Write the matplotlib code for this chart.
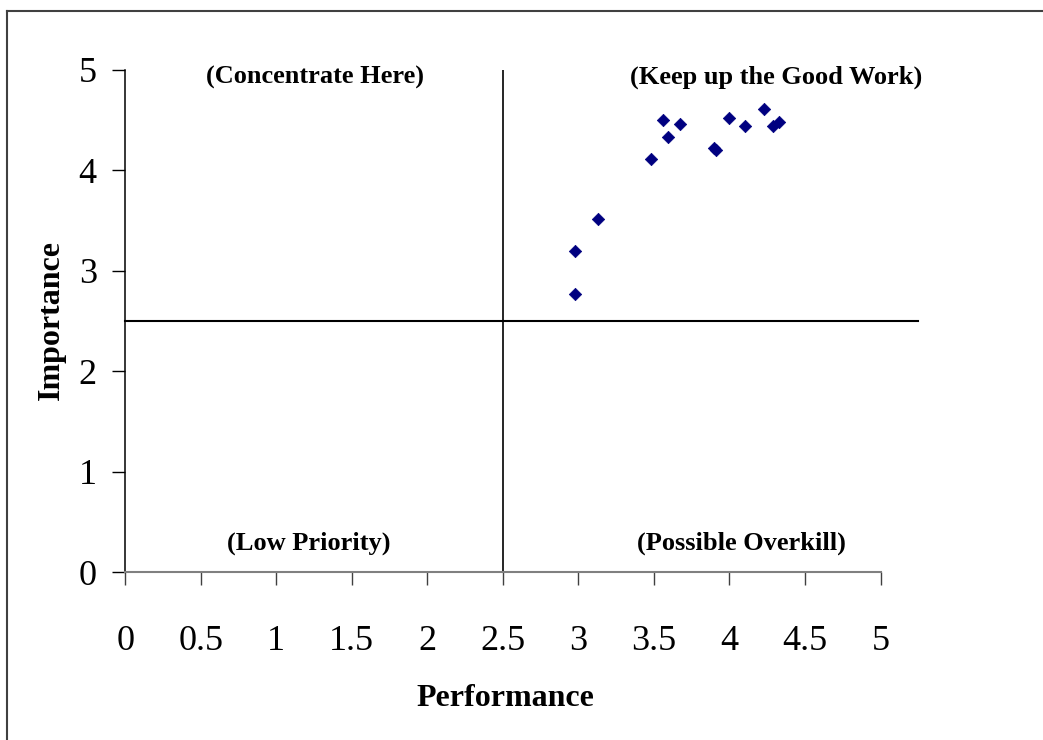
import matplotlib
import matplotlib.pyplot as plt
from matplotlib.lines import Line2D

matplotlib.use('Agg')

plt.rcParams['font.family'] = ['Liberation Serif', 'DejaVu Serif']

# === data ===
performance = [2.98, 2.98, 3.13, 3.48, 3.56, 3.59, 3.67, 3.90, 3.91, 4.00, 4.10, 4.23, 4.29, 4.33]
importance = [2.77, 3.20, 3.52, 4.11, 4.50, 4.33, 4.46, 4.22, 4.20, 4.52, 4.44, 4.61, 4.44, 4.48]

x_ticks = [0, 0.5, 1, 1.5, 2, 2.5, 3, 3.5, 4, 4.5, 5]
x_tick_labels = ['0', '0.5', '1', '1.5', '2', '2.5', '3', '3.5', '4', '4.5', '5']
y_ticks = [0, 1, 2, 3, 4, 5]
y_tick_labels = ['0', '1', '2', '3', '4', '5']

midpoint = 2.5
quadrant_names = ['(Concentrate Here)', '(Keep up the Good Work)', '(Low Priority)', '(Possible Overkill)']
quadrant_xy = [(1.255, 4.93), (4.307, 4.93), (1.216, 0.29), (4.08, 0.29)]

fig = plt.figure(figsize=(10.43, 7.40), dpi=100)
ax = fig.add_axes([0.1201, 0.2264, 0.7241, 0.6791])

ax.scatter(performance, importance, marker='D', s=40, color='#000080',
           edgecolors='#000080', linewidths=0.5, zorder=3)

# quadrant lines
ax.plot([0, 5.25], [midpoint, midpoint], color='black', lw=1.5, clip_on=False)
ax.plot([midpoint, midpoint], [0, 5], color='black', lw=1.2)

for name, (qx, qy) in zip(quadrant_names, quadrant_xy):
    ax.text(qx, qy, name, ha='center', va='center', fontsize=19, fontweight='bold')

ax.set_xlim(0, 5)
ax.set_ylim(0, 5)
ax.set_xticks(x_ticks)
ax.set_xticklabels(x_tick_labels, fontsize=26)
ax.set_yticks(y_ticks)
ax.set_yticklabels(y_tick_labels, fontsize=26)
ax.tick_params(axis='x', direction='out', length=9.5, width=1, color='#404040', pad=28)
ax.tick_params(axis='y', direction='out', length=9.5, width=1, color='black', pad=11)

for s in ['top', 'right']:
    ax.spines[s].set_visible(False)
ax.spines['bottom'].set_color('#808080')
ax.spines['bottom'].set_linewidth(1.5)
ax.spines['left'].set_color('black')
ax.spines['left'].set_linewidth(1.1)

fig.text(505 / 1043, 1 - 698 / 740, 'Performance', ha='center', va='center',
         fontsize=23, fontweight='bold')
fig.text(51 / 1043, 1 - 320 / 740, 'Importance', ha='center', va='center',
         fontsize=23, fontweight='bold', rotation=90)

# outer chart frame (cut off at right and bottom)
fig.add_artist(Line2D([7 / 1043, 1.0], [1 - 11 / 740, 1 - 11 / 740],
                      transform=fig.transFigure, color='#404040', lw=1.5))
fig.add_artist(Line2D([7 / 1043, 7 / 1043], [0.0, 1 - 11 / 740],
                      transform=fig.transFigure, color='#404040', lw=1.5))

fig.savefig('out.png', dpi=100)
plt.close(fig)
